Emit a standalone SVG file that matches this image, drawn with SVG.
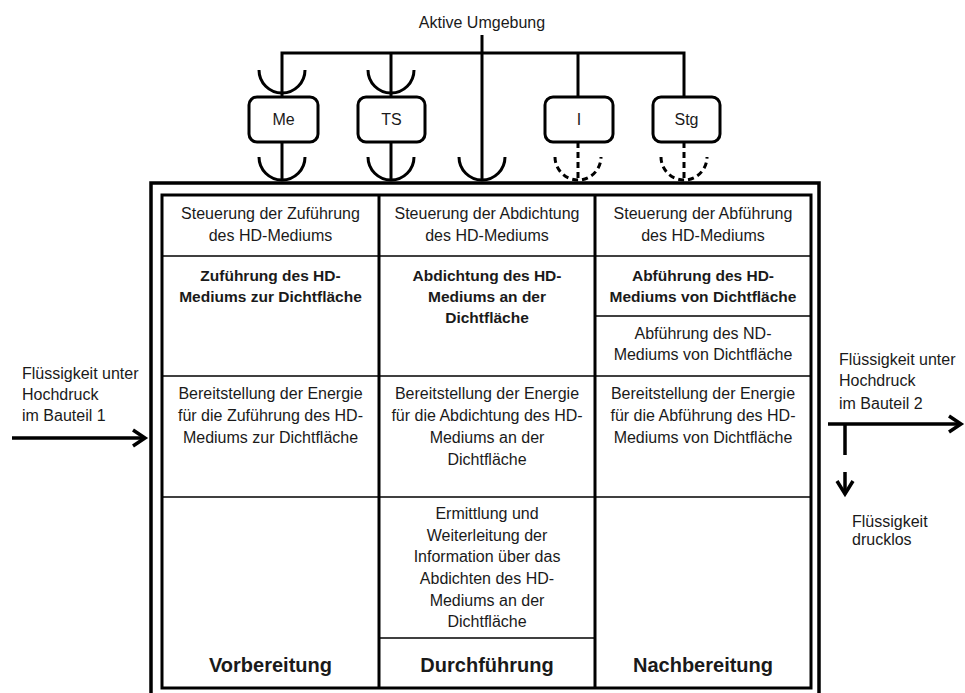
<svg xmlns="http://www.w3.org/2000/svg" width="965" height="693" viewBox="0 0 965 693">
<defs>
<style>
text{font-family:"Liberation Sans",Arial,sans-serif;fill:#1a1a1a}
.t{font-size:16px;text-anchor:middle}
.l{font-size:16px}
.b{font-size:15.5px;font-weight:bold;text-anchor:middle}
.h{font-size:20px;font-weight:bold;text-anchor:middle}
.c{fill:none;stroke:#000;stroke-width:3}
.d{fill:none;stroke:#000;stroke-width:3;stroke-dasharray:6 4}
.box{fill:#fff;stroke:#000;stroke-width:3}
.thin{stroke:#000;stroke-width:1.5}
.thick{stroke:#000;stroke-width:3}
.arr{fill:none;stroke:#000;stroke-width:3.5;stroke-linecap:butt;stroke-linejoin:miter}
</style>
</defs>
<rect width="965" height="693" fill="#fff"/>

<text class="t" x="482" y="28">Aktive Umgebung</text>

<g id="connectors">
<line class="c" x1="482" y1="35" x2="482" y2="181"/>
<polyline class="c" points="282,97 282,53 684,53 684,97"/>
<line class="c" x1="391" y1="53" x2="391" y2="97"/>
<line class="c" x1="578" y1="53" x2="578" y2="97"/>
<path class="c" d="M259,70 A23,23 0 0 0 305,70"/>
<path class="c" d="M368,70 A23,23 0 0 0 414,70"/>
<line class="c" x1="282" y1="142" x2="282" y2="181"/>
<line class="c" x1="391" y1="142" x2="391" y2="181"/>
<path class="c" d="M259,157 A23,23 0 0 0 305,157"/>
<path class="c" d="M368,157 A23,23 0 0 0 414,157"/>
<path class="c" d="M459,157 A23,23 0 0 0 505,157"/>
<line class="d" x1="578" y1="142" x2="578" y2="181"/>
<line class="d" x1="684" y1="142" x2="684" y2="181"/>
<path class="d" d="M555,157 A23,23 0 0 0 601,157"/>
<path class="d" d="M661,157 A23,23 0 0 0 707,157"/>
<line class="arr" x1="12" y1="438" x2="144" y2="438"/>
<polyline class="arr" points="133,430 145,438 133,446"/>
<line class="arr" x1="828" y1="424" x2="960" y2="424"/>
<polyline class="arr" points="949,416 961,424 949,432"/>
<line class="arr" x1="845" y1="424" x2="845" y2="455"/>
<line class="arr" x1="845" y1="472" x2="845" y2="493"/>
<polyline class="arr" points="837,481 845,494 853,481"/>
</g>

<g id="node-Me"><rect class="box" x="249" y="97" width="69" height="45" rx="8"/><text class="t" x="283.5" y="125">Me</text></g>
<g id="node-TS"><rect class="box" x="358" y="97" width="67" height="45" rx="8"/><text class="t" x="391.5" y="125">TS</text></g>
<g id="node-I"><rect class="box" x="545" y="97" width="68" height="45" rx="8"/><text class="t" x="579" y="125">I</text></g>
<g id="node-Stg"><rect class="box" x="653" y="97" width="67" height="45" rx="8"/><text class="t" x="686.5" y="125">Stg</text></g>

<g id="frame">
<rect x="151" y="183" width="668" height="520" fill="none" stroke="#000" stroke-width="3.5"/>
<rect x="162" y="195" width="649" height="493" fill="none" stroke="#000" stroke-width="3"/>
<line class="thick" x1="379" y1="195" x2="379" y2="688"/>
<line class="thick" x1="595" y1="195" x2="595" y2="688"/>
<line class="thin" x1="162" y1="256" x2="811" y2="256"/>
<line class="thin" x1="595" y1="316" x2="811" y2="316"/>
<line class="thin" x1="162" y1="376" x2="811" y2="376"/>
<line class="thin" x1="162" y1="497" x2="811" y2="497"/>
<line class="thin" x1="379" y1="638" x2="595" y2="638"/>
</g>

<g id="cell-vorbereitung">
<text class="t" x="270.5" y="219">Steuerung der Zuführung</text>
<text class="t" x="270.5" y="241">des HD-Mediums</text>
<text class="b" x="270.5" y="281">Zuführung des HD-</text>
<text class="b" x="270.5" y="302">Mediums zur Dichtfläche</text>
<text class="t" x="270.5" y="399">Bereitstellung der Energie</text>
<text class="t" x="270.5" y="421">für die Zuführung des HD-</text>
<text class="t" x="270.5" y="443">Mediums zur Dichtfläche</text>
<text class="h" x="270.5" y="672">Vorbereitung</text>
</g>

<g id="cell-durchfuehrung">
<text class="t" x="487" y="219">Steuerung der Abdichtung</text>
<text class="t" x="487" y="241">des HD-Mediums</text>
<text class="b" x="487" y="281">Abdichtung des HD-</text>
<text class="b" x="487" y="302">Mediums an der</text>
<text class="b" x="487" y="323">Dichtfläche</text>
<text class="t" x="487" y="399">Bereitstellung der Energie</text>
<text class="t" x="487" y="421">für die Abdichtung des HD-</text>
<text class="t" x="487" y="443">Mediums an der</text>
<text class="t" x="487" y="465">Dichtfläche</text>
<text class="t" x="487" y="519">Ermittlung und</text>
<text class="t" x="487" y="540.7">Weiterleitung der</text>
<text class="t" x="487" y="562.3">Information über das</text>
<text class="t" x="487" y="584">Abdichten des HD-</text>
<text class="t" x="487" y="605.7">Mediums an der</text>
<text class="t" x="487" y="627.3">Dichtfläche</text>
<text class="h" x="487" y="672">Durchführung</text>
</g>

<g id="cell-nachbereitung">
<text class="t" x="703" y="219">Steuerung der Abführung</text>
<text class="t" x="703" y="241">des HD-Mediums</text>
<text class="b" x="703" y="281">Abführung des HD-</text>
<text class="b" x="703" y="302">Mediums von Dichtfläche</text>
<text class="t" x="703" y="339">Abführung des ND-</text>
<text class="t" x="703" y="360">Mediums von Dichtfläche</text>
<text class="t" x="703" y="399">Bereitstellung der Energie</text>
<text class="t" x="703" y="421">für die Abführung des HD-</text>
<text class="t" x="703" y="443">Mediums von Dichtfläche</text>
<text class="h" x="703" y="672">Nachbereitung</text>
</g>

<g id="input-label">
<text class="l" x="22" y="379">Flüssigkeit unter</text>
<text class="l" x="22" y="400">Hochdruck</text>
<text class="l" x="22" y="421">im Bauteil 1</text>
</g>
<g id="output-label">
<text class="l" x="839" y="365">Flüssigkeit unter</text>
<text class="l" x="839" y="386">Hochdruck</text>
<text class="l" x="839" y="409">im Bauteil 2</text>
</g>
<g id="drain-label">
<text class="l" x="852" y="527">Flüssigkeit</text>
<text class="l" x="852" y="545">drucklos</text>
</g>
</svg>
